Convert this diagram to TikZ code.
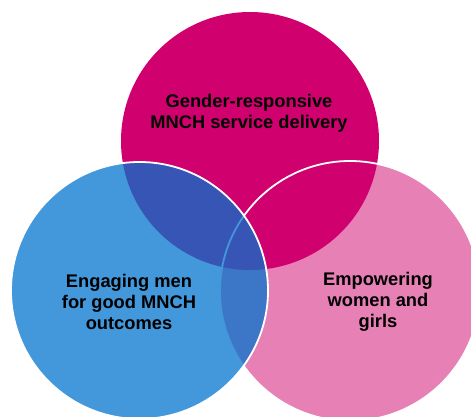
\documentclass[tikz,border=0pt]{standalone}
\usepackage{fontspec}
\setmainfont{Liberation Sans}
\definecolor{magentac}{HTML}{D0006F}
\definecolor{pinkc}{HTML}{E680B5}
\definecolor{bluec}{RGB}{1,116,206}
\tikzset{
  venn/.style={circle, inner sep=0pt, outer sep=0pt},
  lbl/.style={align=center, font=\fontsize{18.3}{21}\selectfont\bfseries, text=black, inner sep=0pt}
}
\begin{document}
\begin{tikzpicture}[x=1pt,y=-1pt]
\useasboundingbox (0,0) rectangle (471,417);
\clip (0,0) rectangle (471,417);
\node[venn, fill=pinkc, minimum size=260pt] (pink) at (350,291) {};
\node[venn, fill=magentac, minimum size=258pt] (mag) at (250,141) {};
\node[venn, draw=white, line width=1.8pt, minimum size=260pt] (pinkedge) at (350,291) {};
\node[venn, fill=bluec, fill opacity=0.74, draw=white, line width=1.8pt, minimum size=257pt] (blue) at (139.5,290.5) {};
\node[lbl] (t1) at (249,113.5) {Gender-responsive\\MNCH service delivery};
\node[lbl] (t2) at (129,301.5) {Engaging men\\for good MNCH\\outcomes};
\node[lbl] (t3) at (378,301.5) {Empowering\\women and\\girls};
\end{tikzpicture}
\end{document}
